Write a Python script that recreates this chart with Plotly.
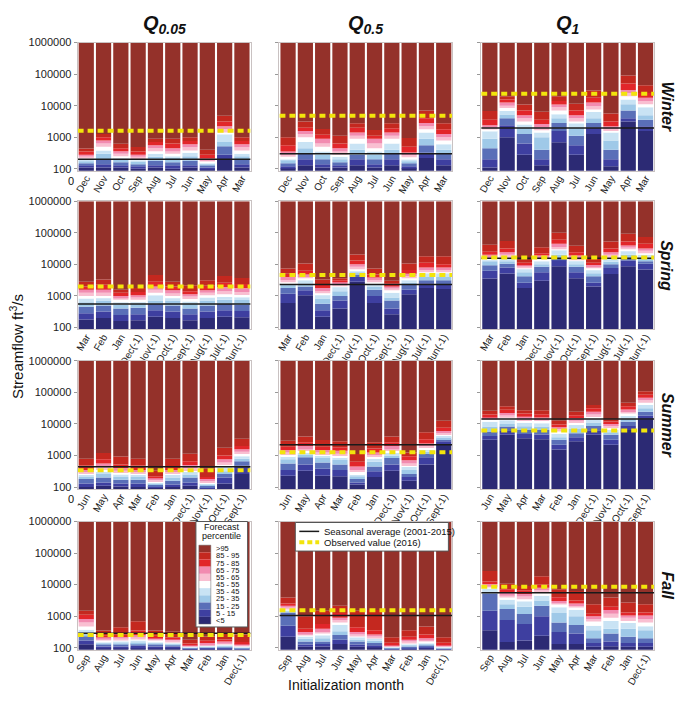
import math
import plotly.graph_objects as go

# ---------------- data ----------------
percentile_bands = ["<5", "5 - 15", "15 - 25", "25 - 35", "35 - 45", "45 - 55",
                    "55 - 65", "65 - 75", "75 - 85", "85 - 95", ">95"]
band_colors = ["#2c2a74", "#3e3fa0", "#5a6fb8", "#9fc9e8", "#c9e3f4", "#ffffff",
               "#f9bfd1", "#f28bb0", "#e2262a", "#c4281f", "#94312a"]

seasons = ["Winter", "Spring", "Summer", "Fall"]
quantile_titles = ["Q<sub>0.05</sub>", "Q<sub>0.5</sub>", "Q<sub>1</sub>"]

months_winter = ["Dec", "Nov", "Oct", "Sep", "Aug", "Jul", "Jun", "May", "Apr", "Mar"]
months_spring = ["Mar", "Feb", "Jan", "Dec(-1)", "Nov(-1)", "Oct(-1)", "Sep(-1)", "Aug(-1)", "Jul(-1)", "Jun(-1)"]
months_summer = ["Jun", "May", "Apr", "Mar", "Feb", "Jan", "Dec(-1)", "Nov(-1)", "Oct(-1)", "Sep(-1)"]
months_fall = ["Sep", "Aug", "Jul", "Jun", "May", "Apr", "Mar", "Feb", "Jan", "Dec(-1)"]

y_tick_values = [100, 1000, 10000, 100000, 1000000]

# Forecast percentile boundaries per initialization month (ft3/s):
# [P5, P15, P25, P35, P45, P55, P65, P75, P85, P95]
winter_q005 = [
    [110, 130, 150, 180, 200, 220, 250, 280, 350, 440],
    [110, 140, 200, 300, 380, 500, 630, 790, 1000, 1260],
    [110, 130, 160, 200, 220, 250, 300, 360, 450, 620],
    [100, 120, 140, 170, 190, 210, 240, 280, 350, 490],
    [110, 130, 180, 240, 300, 360, 450, 560, 710, 890],
    [100, 130, 160, 220, 260, 300, 350, 450, 630, 890],
    [110, 130, 180, 250, 320, 380, 480, 600, 760, 1000],
    [100, 110, 130, 140, 150, 170, 190, 210, 280, 400],
    [200, 280, 520, 710, 1260, 1410, 1780, 2240, 3160, 4790],
    [110, 140, 200, 250, 300, 380, 480, 600, 760, 1000],
]
winter_q05 = [
    [105, 120, 150, 190, 210, 240, 280, 350, 560, 1000],
    [130, 200, 300, 450, 710, 1000, 1260, 1580, 2000, 3160],
    [110, 140, 200, 280, 350, 500, 630, 890, 1200, 1820],
    [110, 130, 160, 200, 240, 280, 350, 450, 630, 1120],
    [130, 200, 280, 400, 630, 890, 1120, 1410, 2000, 2750],
    [110, 140, 200, 280, 350, 450, 630, 890, 1120, 1700],
    [130, 200, 300, 400, 630, 890, 1120, 1410, 1910, 2750],
    [105, 120, 150, 180, 200, 230, 270, 330, 500, 950],
    [220, 320, 560, 890, 1410, 1780, 2240, 2820, 3980, 7080],
    [130, 200, 300, 400, 600, 790, 1000, 1260, 1780, 2750],
]
winter_q1 = [
    [110, 200, 450, 890, 1580, 1780, 2000, 2400, 3550, 6760],
    [1000, 2400, 3980, 5250, 6760, 8510, 10000, 12600, 15800, 20000],
    [280, 630, 1260, 2000, 2510, 3160, 3980, 5010, 7080, 11000],
    [130, 200, 400, 1000, 1410, 1660, 2000, 2630, 3550, 6460],
    [690, 1580, 2820, 3980, 5370, 7080, 8910, 11000, 14100, 20000],
    [280, 560, 1120, 2000, 2820, 3160, 3980, 5010, 7080, 11500],
    [1260, 2000, 2820, 3980, 6310, 7590, 9550, 12600, 17800, 30200],
    [120, 200, 400, 790, 1410, 1580, 1860, 2240, 3160, 5620],
    [3160, 3980, 7080, 11200, 15800, 20000, 25100, 31600, 50100, 91200],
    [1580, 2240, 3550, 5010, 8910, 11200, 14100, 17800, 25100, 44700],
]
spring_q005 = [
    [180, 280, 450, 630, 830, 1000, 1260, 1580, 2000, 2820],
    [200, 320, 500, 710, 890, 1000, 1260, 1580, 2240, 3310],
    [160, 250, 400, 520, 630, 760, 890, 1000, 1260, 1580],
    [170, 260, 420, 560, 660, 760, 890, 1050, 1320, 1780],
    [220, 350, 560, 710, 1050, 1260, 1580, 2000, 2820, 4570],
    [200, 320, 500, 710, 890, 1000, 1200, 1510, 2000, 2820],
    [170, 260, 400, 560, 660, 790, 950, 1120, 1410, 2190],
    [200, 320, 500, 710, 890, 1050, 1260, 1510, 2090, 3160],
    [220, 350, 560, 760, 930, 1120, 1410, 1910, 2630, 4270],
    [210, 330, 520, 740, 910, 1070, 1320, 1780, 2400, 3720],
]
spring_q05 = [
    [590, 1170, 1780, 2240, 2510, 2820, 3160, 3980, 5010, 7410],
    [1050, 1510, 2000, 2400, 3160, 3630, 3980, 4790, 6310, 10700],
    [220, 350, 560, 830, 1120, 1260, 1410, 1780, 2400, 3310],
    [400, 710, 1000, 1410, 1910, 2140, 2400, 2820, 3160, 3630],
    [2820, 3980, 4790, 5620, 6310, 7240, 8320, 10000, 13200, 20400],
    [600, 1000, 1580, 2000, 2400, 2750, 3160, 3800, 4790, 7410],
    [260, 400, 710, 890, 1260, 1510, 1780, 2000, 2510, 3020],
    [1120, 1580, 2240, 2630, 3160, 3630, 4170, 5010, 6610, 10700],
    [1780, 2510, 3160, 3980, 5250, 5750, 6610, 7940, 11200, 18200],
    [1660, 2400, 3160, 3980, 5250, 5750, 6610, 7940, 10000, 18200],
]
spring_q1 = [
    [3550, 6310, 9330, 12600, 14100, 15800, 17800, 20000, 25100, 41700],
    [5130, 7940, 10500, 12600, 14800, 16600, 20000, 24000, 31600, 55000],
    [1780, 2630, 4170, 5620, 7080, 7590, 8510, 10000, 11200, 13800],
    [3020, 5620, 8320, 10000, 12600, 14800, 16600, 19100, 22400, 34700],
    [8710, 14100, 15800, 20000, 28200, 31600, 35500, 44700, 60300, 100000],
    [3630, 5620, 8320, 10000, 13200, 14500, 16600, 19100, 24000, 38900],
    [2000, 2630, 4170, 5250, 6760, 7590, 8510, 9550, 11200, 14800],
    [4900, 7590, 10000, 12000, 14800, 16600, 20000, 24000, 31600, 52500],
    [8710, 13200, 15800, 20000, 26300, 30200, 33900, 39800, 52500, 93300],
    [6920, 10500, 12600, 15800, 20000, 24000, 26900, 31600, 44700, 74100],
]
summer_q005 = [
    [100, 130, 180, 210, 250, 280, 320, 350, 480, 790],
    [110, 140, 200, 260, 320, 350, 420, 560, 760, 1200],
    [105, 130, 170, 210, 250, 290, 330, 400, 520, 930],
    [100, 130, 170, 210, 250, 280, 320, 350, 480, 790],
    [95, 105, 120, 130, 140, 150, 170, 190, 220, 340],
    [100, 120, 160, 200, 250, 280, 300, 350, 450, 790],
    [110, 140, 200, 250, 320, 350, 400, 500, 660, 1150],
    [93, 100, 110, 120, 130, 145, 160, 180, 210, 380],
    [130, 200, 260, 320, 450, 520, 600, 760, 1000, 1780],
    [260, 480, 660, 790, 950, 1120, 1320, 1580, 2000, 3390],
]
summer_q05 = [
    [230, 350, 560, 760, 950, 1050, 1260, 1510, 1910, 2950],
    [330, 520, 890, 1050, 1260, 1410, 1580, 2000, 2630, 3980],
    [230, 380, 600, 830, 1000, 1100, 1260, 1510, 1910, 3090],
    [220, 350, 520, 720, 890, 1000, 1150, 1410, 1820, 2820],
    [120, 140, 180, 220, 260, 300, 350, 450, 630, 1120],
    [210, 320, 450, 630, 830, 950, 1050, 1260, 1660, 2630],
    [330, 520, 830, 1000, 1200, 1410, 1580, 2000, 2630, 3980],
    [160, 210, 260, 350, 450, 500, 560, 710, 950, 1260],
    [520, 890, 1120, 1320, 1580, 1780, 2000, 2400, 3310, 5500],
    [2340, 2820, 3310, 3800, 4270, 4680, 5250, 6030, 7590, 12600],
]
summer_q1 = [
    [3160, 4170, 5750, 8320, 11700, 14100, 15100, 16200, 20000, 26300],
    [4570, 6030, 8320, 10000, 13200, 15800, 18600, 22400, 28200, 36300],
    [3550, 4790, 6460, 8510, 11000, 13200, 15100, 17000, 21400, 27500],
    [3310, 4680, 6460, 8320, 10500, 12600, 14500, 16200, 20400, 27500],
    [1550, 2190, 3160, 3800, 4900, 5750, 6760, 7940, 9550, 12600],
    [2820, 3800, 5130, 6920, 9330, 11000, 12600, 15100, 19100, 24500],
    [4570, 6310, 8710, 11200, 14100, 17800, 20000, 24500, 31600, 39800],
    [2190, 3160, 4570, 5500, 6460, 7940, 9120, 10500, 12000, 14100],
    [6460, 8710, 11700, 14500, 17800, 21400, 25100, 28800, 36300, 46800],
    [13500, 18200, 24500, 31600, 39800, 46800, 56200, 67600, 85100, 110000],
]
fall_q005 = [
    [130, 170, 230, 290, 370, 470, 630, 810, 1120, 1480],
    [100, 110, 130, 140, 150, 170, 190, 210, 250, 350],
    [100, 110, 130, 145, 160, 180, 200, 220, 260, 450],
    [100, 115, 135, 150, 170, 190, 210, 250, 350, 690],
    [100, 110, 130, 140, 150, 170, 190, 210, 240, 350],
    [100, 110, 120, 130, 140, 155, 170, 190, 210, 320],
    [91, 95, 100, 105, 107, 112, 117, 126, 135, 178],
    [93, 98, 102, 107, 112, 120, 126, 141, 166, 229],
    [93, 100, 105, 112, 120, 129, 141, 158, 182, 275],
    [89, 93, 98, 102, 107, 112, 120, 132, 151, 263],
]
fall_q05 = [
    [224, 500, 1320, 1410, 1580, 1740, 1910, 2140, 2510, 3890],
    [107, 126, 158, 191, 229, 251, 275, 316, 398, 1000],
    [110, 132, 158, 200, 251, 282, 316, 398, 562, 1480],
    [132, 178, 251, 331, 537, 631, 759, 891, 1260, 2140],
    [107, 126, 158, 182, 219, 240, 263, 316, 447, 1480],
    [105, 120, 141, 166, 200, 209, 229, 263, 355, 1580],
    [89, 93, 98, 102, 107, 112, 117, 126, 145, 214],
    [93, 100, 110, 120, 132, 141, 158, 178, 224, 355],
    [100, 107, 120, 132, 145, 158, 178, 200, 263, 468],
    [89, 91, 95, 100, 105, 110, 117, 126, 145, 214],
]
fall_q1 = [
    [355, 1480, 5250, 6030, 7590, 8320, 9120, 10500, 12600, 26900],
    [151, 759, 1700, 2400, 3310, 3980, 4470, 5620, 7080, 10700],
    [170, 562, 1170, 2000, 3090, 3470, 4170, 5010, 6610, 9120],
    [240, 1000, 2140, 3160, 4470, 5620, 6610, 7940, 10000, 18600],
    [132, 316, 631, 1260, 1910, 2400, 2510, 3020, 3980, 7080],
    [132, 282, 525, 1000, 1580, 2000, 2090, 2510, 3160, 6310],
    [107, 141, 200, 355, 501, 708, 794, 1000, 1200, 2400],
    [112, 158, 282, 398, 708, 891, 1200, 1580, 2000, 3890],
    [107, 141, 224, 398, 603, 708, 891, 1050, 1320, 2690],
    [107, 141, 200, 355, 479, 631, 794, 1050, 1320, 2400],
]

# seasonal average (2001-2015) and observed value (2016), per quantile column
seasonal_avg_winter = [200, 300, 1950]
seasonal_avg_spring = [550, 2300, 15500]
seasonal_avg_summer = [440, 2200, 14500]
seasonal_avg_fall = [290, 1050, 5500]
observed_winter = [1600, 4800, 23700]
observed_spring = [2000, 4600, 16500]
observed_summer = [340, 1270, 6200]
observed_fall = [255, 1550, 8500]

# ---------------- figure ----------------
WIN_W, WIN_H = 685, 705
OFF = 8                      # page body margin
FW, FH = WIN_W - OFF, WIN_H - 2 * OFF
FONT = "Liberation Sans, Arial, sans-serif"
Y_BOTTOM = 87          # lower end of the log axis
Y_TOP = 1000000        # upper end of the log axis
FLOOR = 10             # start of the <5 band (below the visible range)

panels = [
    [winter_q005, winter_q05, winter_q1],
    [spring_q005, spring_q05, spring_q1],
    [summer_q005, summer_q05, summer_q1],
    [fall_q005, fall_q05, fall_q1],
]
month_rows = [months_winter, months_spring, months_summer, months_fall]
avg_rows = [seasonal_avg_winter, seasonal_avg_spring, seasonal_avg_summer, seasonal_avg_fall]
obs_rows = [observed_winter, observed_spring, observed_summer, observed_fall]

col_px = [(74, 248), (277, 451), (480, 654)]
row_px = [(37, 167), (198, 328), (360, 490), (523, 653)]


def px(x):
    return (x - OFF) / FW


def py(y):
    return 1 - (y - OFF) / FH


fig = go.Figure()
layout = {}

for r in range(4):
    for c in range(3):
        i = r * 3 + c + 1
        xa = "x" if i == 1 else f"x{i}"
        ya = "y" if i == 1 else f"y{i}"
        data = panels[r][c]
        xs = list(range(len(data)))
        for k in range(11):
            lower = [FLOOR if k == 0 else bar[k - 1] for bar in data]
            upper = [Y_TOP if k == 10 else bar[k] for bar in data]
            fig.add_trace(go.Bar(
                x=xs, y=[u - l for u, l in zip(upper, lower)], base=lower,
                marker=dict(color=band_colors[k], line=dict(width=0)),
                xaxis=xa, yaxis=ya, showlegend=False, hoverinfo="skip",
                name=percentile_bands[k]))
        fig.add_trace(go.Scatter(
            x=[-0.5, len(data) - 0.5], y=[avg_rows[r][c]] * 2, mode="lines",
            line=dict(color="#1a1a1a", width=1.5), xaxis=xa, yaxis=ya,
            showlegend=False, hoverinfo="skip"))
        fig.add_trace(go.Scatter(
            x=[-0.5, len(data) - 0.5], y=[obs_rows[r][c]] * 2, mode="lines",
            line=dict(color="#f2e40c", width=4, dash="6px,4px"), xaxis=xa, yaxis=ya,
            showlegend=False, hoverinfo="skip"))

        x0, x1 = col_px[c]
        y0, y1 = row_px[r]
        layout["xaxis" + ("" if i == 1 else str(i))] = dict(
            domain=[px(x0), px(x1)], anchor=ya, range=[-0.5, len(data) - 0.5],
            tickmode="array", tickvals=xs, ticktext=month_rows[r], tickangle=-60,
            ticks="", ticklabelstandoff=-3,
            tickfont=dict(size=10, color="#222", family=FONT),
            showline=True, linecolor="#c9c2c2", linewidth=1, mirror=True,
            showgrid=False, zeroline=False, fixedrange=True)
        layout["yaxis" + ("" if i == 1 else str(i))] = dict(
            domain=[py(y1), py(y0)], anchor=xa, type="log",
            range=[math.log10(Y_BOTTOM), math.log10(Y_TOP)],
            tickmode="array", tickvals=y_tick_values,
            ticktext=[str(v) for v in y_tick_values], showticklabels=(c == 0),
            ticks="outside", ticklen=3, tickcolor="#999",
            tickfont=dict(size=11, color="#222", family=FONT),
            showline=True, linecolor="#c9c2c2", linewidth=1, mirror=True,
            showgrid=False, zeroline=False, fixedrange=True)

annotations = []
shapes = []


def note(x, y, text, size, xanchor="center", yanchor="middle", angle=0):
    annotations.append(dict(
        x=px(x), y=py(y), xref="paper", yref="paper", xanchor=xanchor,
        yanchor=yanchor, text=text, showarrow=False, textangle=angle,
        font=dict(size=size, color="#111", family=FONT)))


# column headers
for c in range(3):
    x0, x1 = col_px[c]
    note((x0 + x1) / 2, 19, f"<b><i>{quantile_titles[c]}</i></b>", 20)

# row labels
for r in range(4):
    y0, y1 = row_px[r]
    note(667, (y0 + y1) / 2, f"<b><i>{seasons[r]}</i></b>", 16, angle=90)

# "0" below the lowest tick label of left panels
for r in (0, 2, 3):
    note(72, row_px[r][1] + 10, "0", 11, xanchor="right")

# axis titles
note(12, 345, "Streamflow ft<sup>3</sup>/s", 15, angle=-90)
note(344, 689, "Initialization month", 14)

# forecast percentile legend (panel Fall / Q0.05)
shapes.append(dict(type="rect", xref="paper", yref="paper",
                   x0=px(193), x1=px(245), y0=py(630), y1=py(523),
                   fillcolor="white", line=dict(color="#555", width=1)))
note(219, 529, "Forecast", 9)
note(219, 538, "percentile", 9)
sw_top, sw_bot = 547, 627
step = (sw_bot - sw_top) / len(percentile_bands)
for j, k in enumerate(range(len(percentile_bands) - 1, -1, -1)):
    yt = sw_top + j * step
    shapes.append(dict(type="rect", xref="paper", yref="paper",
                       x0=px(196), x1=px(208), y0=py(yt + step), y1=py(yt),
                       fillcolor=band_colors[k], line=dict(width=0)))
    note(211, yt + step / 2, percentile_bands[k], 7.5, xanchor="left")
shapes.append(dict(type="rect", xref="paper", yref="paper",
                   x0=px(196), x1=px(208), y0=py(sw_bot), y1=py(sw_top),
                   fillcolor="rgba(0,0,0,0)", line=dict(color="#666", width=0.5)))

# line legend (panel Fall / Q0.5)
shapes.append(dict(type="rect", xref="paper", yref="paper",
                   x0=px(293), x1=px(447), y0=py(553), y1=py(524),
                   fillcolor="white", line=dict(color="#555", width=1)))
shapes.append(dict(type="line", xref="paper", yref="paper",
                   x0=px(297), x1=px(317), y0=py(533), y1=py(533),
                   line=dict(color="#1a1a1a", width=1.5)))
shapes.append(dict(type="line", xref="paper", yref="paper",
                   x0=px(297), x1=px(317), y0=py(544), y1=py(544),
                   line=dict(color="#f2e40c", width=4, dash="5px,3px")))
note(320, 533, "Seasonal average (2001-2015)", 9.5, xanchor="left")
note(320, 544, "Observed value (2016)", 9.5, xanchor="left")

fig.update_layout(
    width=FW, height=FH, autosize=False,
    margin=dict(l=0, r=0, t=0, b=0),
    paper_bgcolor="white", plot_bgcolor="white",
    barmode="overlay", bargap=0.12,
    showlegend=False,
    font=dict(family=FONT, color="#222"),
    annotations=annotations, shapes=shapes,
    **layout)

fig.write_html("out.html")
